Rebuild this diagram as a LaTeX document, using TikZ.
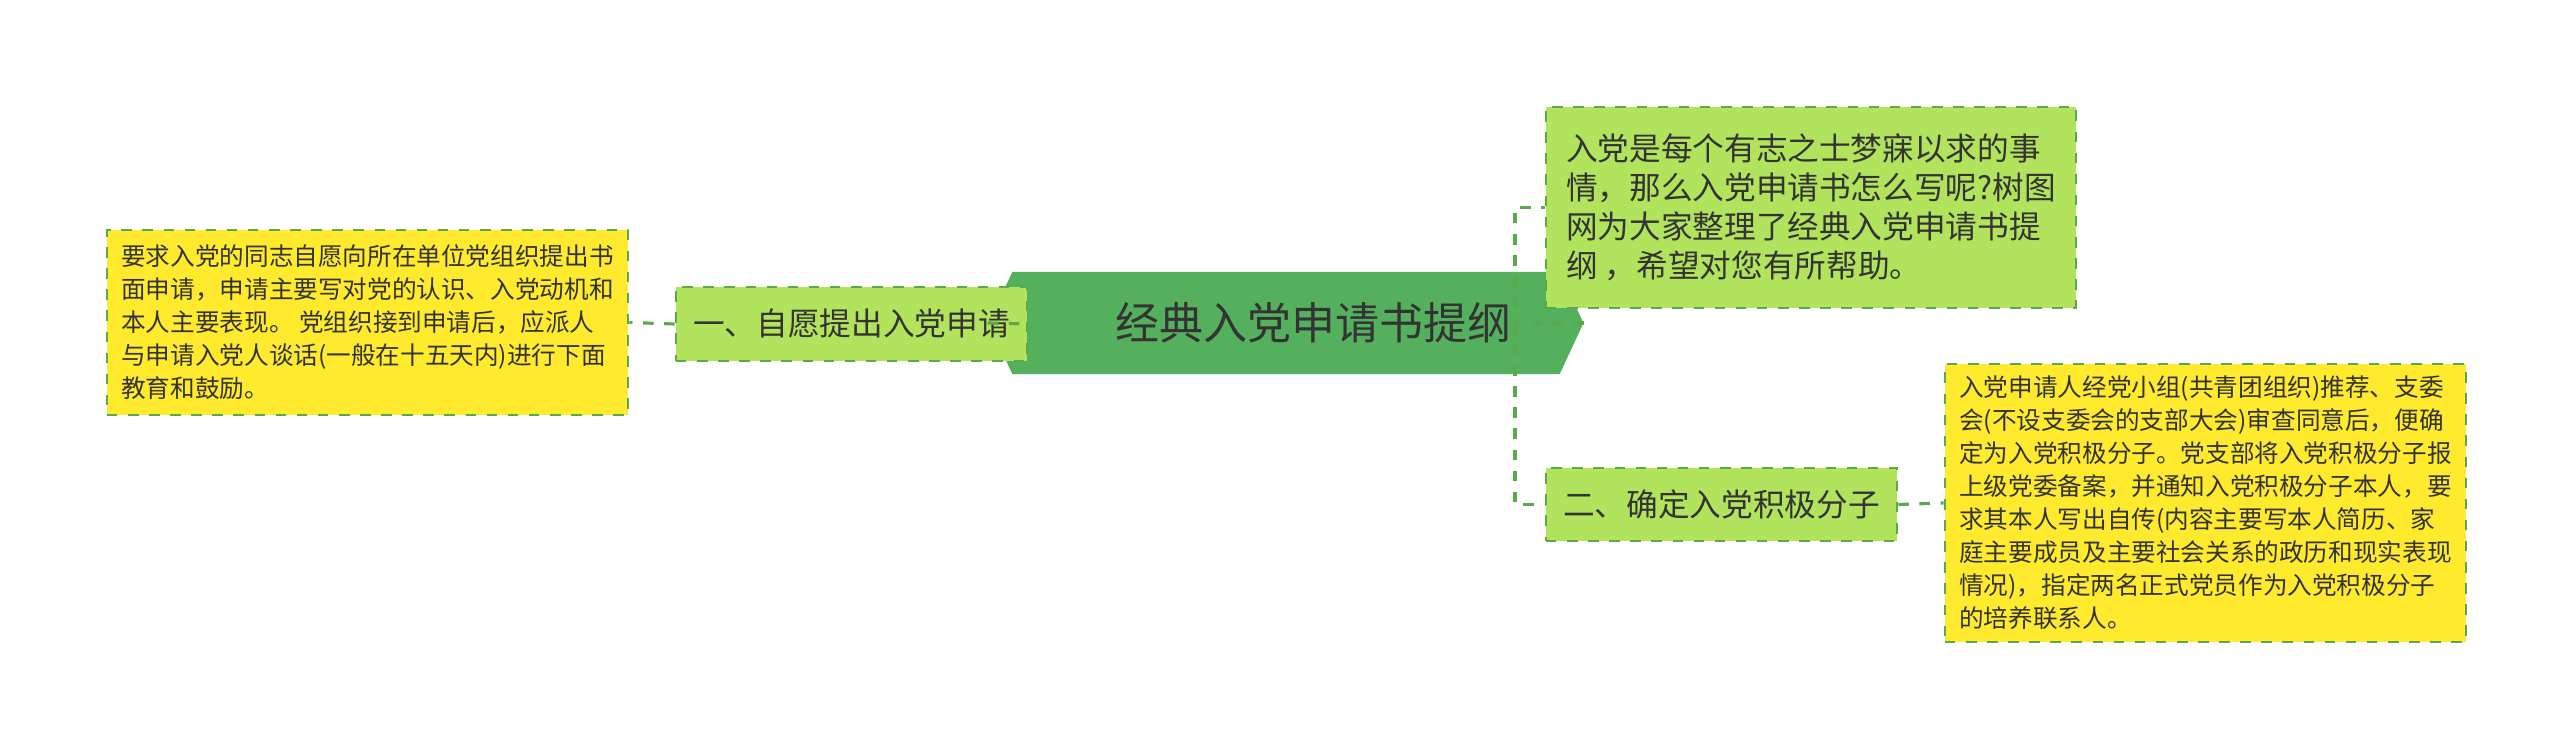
\documentclass[tikz,border=0pt]{standalone}
\usepackage{fontspec}
\setmainfont{Noto Sans CJK SC}
\usetikzlibrary{shapes.symbols}
\definecolor{rootgreen}{HTML}{55B05E}
\definecolor{leafgreen}{HTML}{B2E35C}
\definecolor{noteyellow}{HTML}{FFEA2E}
\definecolor{linegreen}{HTML}{5AAA4C}
\definecolor{inkgray}{HTML}{333333}
\tikzset{
  topic/.style={draw=linegreen,dashed,line width=0.7pt,fill=leafgreen,text=inkgray,
    inner sep=0pt,align=left,font=\fontsize{9}{11.1}\selectfont},
  note/.style={draw=linegreen,dashed,line width=0.7pt,fill=noteyellow,text=inkgray,
    inner sep=0pt,align=left,font=\fontsize{7}{9.4}\selectfont},
  link/.style={draw=linegreen,dashed,line width=0.9pt}
}
\begin{document}
\begin{tikzpicture}[x=0.01cm,y=-0.01cm]
\useasboundingbox (0,0) rectangle (2560,746);

\node[signal,signal to=east and west,signal pointer angle=130,fill=rootgreen,text=inkgray,
  minimum width=423\pgflinewidth,inner sep=0pt,minimum height=2.7cm,
  font=\fontsize{12.5}{14}\selectfont,text width=3.4cm,align=center,minimum height=1.02cm]
  (root) at (1286,323) {经典入党申请书提纲};

\node[topic,minimum width=3.51cm,minimum height=0.74cm,align=center] (b1) at (851.5,324) {一、自愿提出入党申请};
\node[topic,minimum width=3.51cm,minimum height=0.73cm,align=center] (b2) at (1721.5,504.5) {二、确定入党积极分子};
\node[topic,minimum width=5.3cm,minimum height=2.01cm] (rt) at (1811,207.5)
  {入党是每个有志之士梦寐以求的事\\情，那么入党申请书怎么写呢?树图\\网为大家整理了经典入党申请书提\\纲 ，希望对您有所帮助。};
\node[note,minimum width=5.21cm,minimum height=1.85cm] (lefty) at (367.5,322.5)
  {要求入党的同志自愿向所在单位党组织提出书\\面申请，申请主要写对党的认识、入党动机和\\本人主要表现。 党组织接到申请后，应派人\\与申请入党人谈话(一般在十五天内)进行下面\\教育和鼓励。};
\node[note,minimum width=5.21cm,minimum height=2.78cm] (ry) at (2205.5,503)
  {入党申请人经党小组(共青团组织)推荐、支委\\会(不设支委会的支部大会)审查同意后，便确\\定为入党积极分子。党支部将入党积极分子报\\上级党委备案，并通知入党积极分子本人，要\\求其本人写出自传(内容主要写本人简历、家\\庭主要成员及主要社会关系的政历和现实表现\\情况)，指定两名正式党员作为入党积极分子\\的培养联系人。};

\coordinate (sp) at (1515,323);
\draw[link] (root.east) -- (sp) |- (rt.west);
\draw[link] (sp) |- (b2.west);
\draw[link] (root.west) -- (b1.east);
\draw[link] (b1.west) -- (lefty.east);
\draw[link] (b2.east) -- (ry.west);
\end{tikzpicture}
\end{document}
